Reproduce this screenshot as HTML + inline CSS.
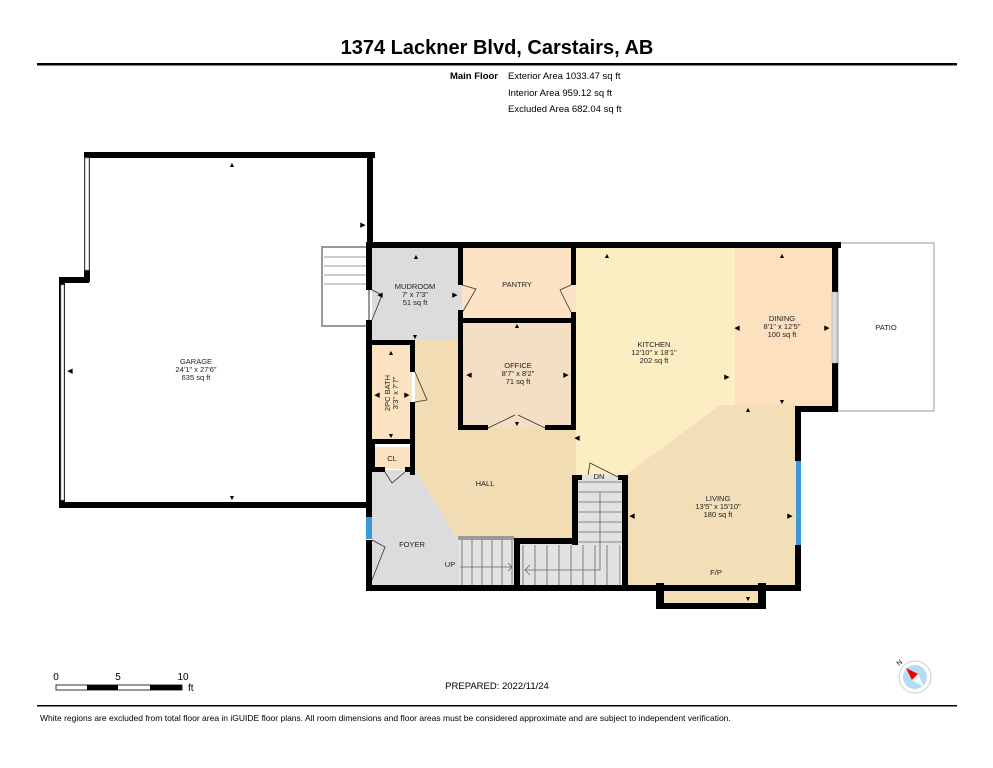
<!DOCTYPE html>
<html><head><meta charset="utf-8"><style>
body{margin:0;background:#fff;width:993px;height:768px;overflow:hidden}
svg{display:block;font-family:"Liberation Sans",Arial,sans-serif}
</style></head><body>
<svg width="993" height="768" viewBox="0 0 993 768" xmlns="http://www.w3.org/2000/svg">
<text x="497" y="54" text-anchor="middle" font-size="20" font-weight="bold" fill="#000">1374 Lackner Blvd, Carstairs, AB</text>
<rect x="37" y="63" width="920" height="2.5" fill="#000"/>
<text x="498" y="79" text-anchor="end" font-size="9.5" font-weight="bold">Main Floor</text>
<text x="508" y="79" font-size="9.5">Exterior Area 1033.47 sq ft</text>
<text x="508" y="96" font-size="9.5">Interior Area 959.12 sq ft</text>
<text x="508" y="112" font-size="9.5">Excluded Area 682.04 sq ft</text>

<!-- fills -->
<rect x="372" y="248" width="90" height="92" fill="#dcdcdc"/>
<polygon points="372,340 462,340 462,430 415,430 415,340" fill="#f2dcb3"/>
<rect x="462" y="248" width="114" height="72" fill="#fde3c4"/>
<rect x="462" y="320" width="114" height="108" fill="#f3dfc3"/>
<polygon points="415,340 462,340 462,428 576,428 576,475 576,475 576,540 458,540 415,470" fill="#f2dcb3"/>
<polygon points="372,470 415,470 458,540 458,585 372,585" fill="#dcdcdc"/>
<rect x="372" y="343" width="40" height="97" fill="#fbe2c0"/>
<rect x="372" y="447" width="40" height="22" fill="#fbe2c0"/>
<polygon points="576,248 735,248 735,405 720,405 625,475 576,475" fill="#fdedc2"/>
<rect x="735" y="248" width="100" height="160" fill="#fde0bd"/>
<polygon points="735,405 797,405 797,587 625,587 625,475 720,405" fill="#f2deb7"/>
<rect x="662" y="587" width="98" height="18" fill="#f2deb7"/>
<rect x="458" y="540" width="162" height="47" fill="#e2e2e2"/>
<rect x="578" y="475" width="47" height="70" fill="#e2e2e2"/>

<!-- stairs lines -->
<g stroke="#666" stroke-width="0.8" fill="none">
<path d="M462,540 V585 M472,540 V585 M482,540 V585 M492,540 V585 M502,540 V585 M512,540 V585"/>
<path d="M523,545 V585 M535,545 V585 M547,545 V585 M559,545 V585 M571,545 V585 M583,545 V585 M595,545 V585 M607,545 V585 M620,545 V585"/>
<path d="M578,482 H622 M578,492 H622 M578,502 H622 M578,512 H622 M578,522 H622 M578,532 H622 M578,542 H622"/>
<path d="M600,492 V570 H525 M530,565 L525,570 L530,575"/>
<path d="M460,567 H512 M508,563 L512,567 L508,571"/>
</g>
<rect x="458" y="536" width="56" height="4" fill="#999"/>
<!-- outside stairs -->
<rect x="322" y="247" width="47" height="79" fill="#fff" stroke="#999" stroke-width="2"/>
<g stroke="#777" stroke-width="0.8"><path d="M324,257H366M324,266H366M324,275H366M324,284H366"/></g>
<!-- patio -->
<rect x="838" y="243" width="96" height="168" fill="#fff" stroke="#999" stroke-width="1"/>

<!-- walls -->
<g fill="#000">
<!-- garage -->
<rect x="84" y="152" width="291" height="6"/>
<rect x="84" y="152" width="6" height="130"/>
<rect x="59" y="277" width="30" height="6"/>
<rect x="59" y="277" width="6" height="231"/>
<rect x="59" y="502" width="313" height="6"/>
<rect x="367" y="152" width="6" height="95"/>
<!-- house -->
<rect x="366" y="242" width="475" height="6"/>
<rect x="366" y="242" width="6" height="48"/>
<rect x="366" y="320" width="6" height="200"/>
<rect x="366" y="540" width="6" height="51"/>
<rect x="366" y="585" width="434" height="6"/>
<rect x="832" y="242" width="6" height="50"/>
<rect x="832" y="363" width="6" height="49"/>
<rect x="796" y="406" width="42" height="6"/>
<rect x="795" y="406" width="6" height="55"/>
<rect x="795" y="545" width="6" height="46"/>
<rect x="656" y="583" width="8" height="25"/>
<rect x="758" y="583" width="8" height="25"/>
<rect x="656" y="603" width="110" height="6"/>
<!-- interior -->
<rect x="458" y="245" width="5" height="40"/>
<rect x="458" y="310" width="5" height="120"/>
<rect x="571" y="245" width="5" height="40"/>
<rect x="571" y="312" width="5" height="118"/>
<rect x="458" y="318" width="118" height="5"/>
<rect x="458" y="425" width="30" height="5"/>
<rect x="545" y="425" width="31" height="5"/>
<rect x="370" y="340" width="45" height="5"/>
<rect x="410" y="340" width="5" height="32"/>
<rect x="410" y="402" width="5" height="73"/>
<rect x="370" y="439" width="45" height="5"/>
<rect x="370" y="467" width="15" height="5"/>
<rect x="405" y="467" width="10" height="5"/>
<rect x="370" y="443" width="5" height="28"/>
<rect x="572" y="475" width="6" height="70"/>
<rect x="514" y="538" width="64" height="6"/>
<rect x="514" y="538" width="6" height="50"/>
<rect x="572" y="475" width="10" height="5"/>
<rect x="618" y="475" width="10" height="5"/>
<rect x="622" y="475" width="6" height="112"/>
</g>
<!-- windows -->
<rect x="85" y="158" width="4" height="112" fill="#fff" stroke="#999" stroke-width="0.8"/>
<rect x="61" y="285" width="3" height="215" fill="#fff" stroke="#999" stroke-width="0.6"/>
<rect x="366" y="517" width="6" height="22" fill="#3a9ad9"/>
<rect x="796" y="461" width="5" height="84" fill="#3a9ad9"/>
<rect x="832" y="292" width="5" height="71" fill="#ddd" stroke="#999" stroke-width="0.5"/>
<!-- door swings -->
<g stroke="#333" stroke-width="0.8" fill="none">
<path d="M372,290 L382,295 L372,320"/>
<path d="M462,285 L476,289 L462,313"/>
<path d="M571,285 L560,290 L571,312"/>
<path d="M488,428 L515,415 M545,428 L518,415"/>
<path d="M415,372 L427,400 L415,402"/>
<path d="M385,472 L392,483 L405,472"/>
<path d="M372,540 L385,547 L372,580"/>
<path d="M588,475 L590,463 L620,478"/>
</g>
<!-- labels -->
<g font-size="7.5" text-anchor="middle" fill="#222">
<text x="196" y="364">GARAGE</text><text x="196" y="372">24'1" x 27'6"</text><text x="196" y="380">635 sq ft</text>
<text x="415" y="289">MUDROOM</text><text x="415" y="297">7' x 7'3"</text><text x="415" y="305">51 sq ft</text>
<text x="517" y="287">PANTRY</text>
<text x="518" y="368">OFFICE</text><text x="518" y="376">8'7" x 8'2"</text><text x="518" y="384">71 sq ft</text>
<text x="654" y="347">KITCHEN</text><text x="654" y="355">12'10" x 18'1"</text><text x="654" y="363">202 sq ft</text>
<text x="782" y="321">DINING</text><text x="782" y="329">8'1" x 12'5"</text><text x="782" y="337">100 sq ft</text>
<text x="886" y="330">PATIO</text>
<text x="718" y="501">LIVING</text><text x="718" y="509">13'5" x 15'10"</text><text x="718" y="517">180 sq ft</text>
<text x="716" y="575">F/P</text>
<text x="485" y="486">HALL</text>
<text x="412" y="547">FOYER</text>
<text x="450" y="567">UP</text>
<text x="599" y="479">DN</text>
<text x="392" y="461">CL</text>
<text transform="translate(390,393) rotate(-90)">2PC BATH</text>
<text transform="translate(398,393) rotate(-90)">3'3" x 7'7"</text>
</g>
<!-- arrows -->
<g fill="#000" font-size="7" text-anchor="middle">
<text x="232" y="167">▲</text><text x="232" y="500">▼</text>
<text x="70" y="373">◀</text><text x="363" y="227">▶</text>
<text x="416" y="259">▲</text><text x="415" y="339">▼</text><text x="380" y="297">◀</text><text x="455" y="297">▶</text>
<text x="517" y="328">▲</text><text x="517" y="426">▼</text><text x="469" y="377">◀</text><text x="566" y="377">▶</text>
<text x="607" y="258">▲</text><text x="577" y="440">◀</text><text x="727" y="379">▶</text>
<text x="782" y="258">▲</text><text x="737" y="330">◀</text><text x="827" y="330">▶</text><text x="782" y="404">▼</text>
<text x="748" y="412">▲</text><text x="632" y="518">◀</text><text x="790" y="518">▶</text><text x="748" y="601">▼</text>
<text x="391" y="355">▲</text><text x="391" y="438">▼</text><text x="377" y="397">◀</text><text x="407" y="397">▶</text>
</g>
<!-- scale -->
<g font-size="10" fill="#000">
<text x="56" y="680" text-anchor="middle">0</text><text x="118" y="680" text-anchor="middle">5</text><text x="183" y="680" text-anchor="middle">10</text><text x="188" y="691">ft</text>
</g>
<rect x="56" y="685" width="126" height="5" fill="#fff" stroke="#000" stroke-width="0.8"/>
<rect x="87" y="685" width="31" height="5" fill="#000"/><rect x="150" y="685" width="32" height="5" fill="#000"/>
<text x="497" y="689" text-anchor="middle" font-size="9.5">PREPARED: 2022/11/24</text>
<!-- compass -->
<circle cx="915" cy="677" r="16" fill="#fff" stroke="#ccc"/>
<circle cx="915" cy="677" r="12" fill="#b6dcf5"/>
<polygon points="906,668 918,674 912,680" fill="#e00"/>
<polygon points="918,674 924,687 912,680" fill="#fff"/>
<text x="899" y="666" font-size="7" transform="rotate(-40 899 666)">N</text>
<rect x="37" y="705" width="920" height="1.5" fill="#000"/>
<text x="40" y="721" font-size="8.5">White regions are excluded from total floor area in iGUIDE floor plans. All room dimensions and floor areas must be considered approximate and are subject to independent verification.</text>
</svg>
</body></html>
